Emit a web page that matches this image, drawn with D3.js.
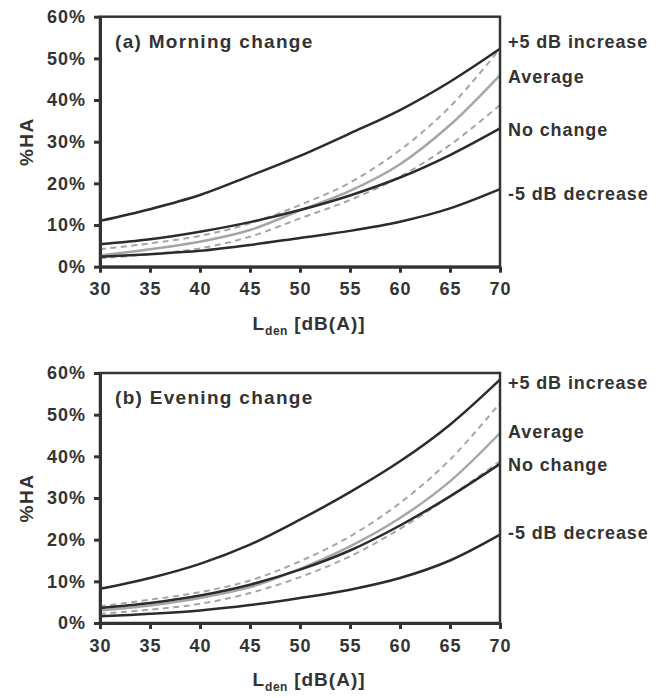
<!DOCTYPE html>
<html>
<head>
    <meta charset="utf-8">
    <title>%HA by Lden</title>
    <script src="https://d3js.org/d3.v7.min.js"></script>
    <style>
        body { margin: 0; background: #fff; }
        text { font-family: "Liberation Sans", Arial, sans-serif; font-weight: bold; fill: #333; }
        .axis path, .axis line { stroke: #333; }
    </style>
</head>
<body>
    <svg id="chart"></svg>
    <script>
        // x values (Lden, dB(A))
        const levels = [30, 35, 40, 45, 50, 55, 60, 65, 70];
        const xTicks = [30, 35, 40, 45, 50, 55, 60, 65, 70];
        const yTicks = [0, 10, 20, 30, 40, 50, 60];

        // (a) morning change, %HA
        const morningIncrease = [11.0, 13.8, 17.2, 21.8, 26.6, 32.0, 37.6, 44.4, 52.3];
        const morningNoChange = [5.4, 6.6, 8.4, 10.7, 13.6, 17.1, 21.4, 26.8, 33.2];
        const morningDecrease = [2.4, 3.0, 3.8, 5.2, 6.9, 8.6, 10.8, 14.0, 18.6];
        const morningAverage = [2.7, 4.2, 6.0, 8.8, 13.5, 18.2, 24.6, 34.0, 46.0];
        const morningUpper = [4.2, 5.6, 7.4, 10.4, 14.8, 20.2, 28.0, 38.4, 52.3];
        const morningLower = [2.0, 3.0, 4.4, 7.2, 11.6, 16.0, 21.6, 29.2, 38.8];

        // (b) evening change, %HA
        const eveningIncrease = [8.2, 10.8, 14.2, 18.8, 24.8, 31.4, 38.8, 47.6, 58.4];
        const eveningNoChange = [3.6, 4.8, 6.6, 9.2, 12.8, 17.4, 23.4, 30.4, 38.2];
        const eveningDecrease = [1.6, 2.2, 3.0, 4.3, 6.0, 8.0, 10.8, 15.0, 21.2];
        const eveningAverage = [3.0, 4.2, 6.0, 8.6, 13.0, 18.4, 25.2, 34.0, 45.6];
        const eveningUpper = [4.0, 5.6, 7.4, 10.2, 14.8, 20.8, 28.8, 39.2, 52.8];
        const eveningLower = [2.2, 3.2, 4.6, 7.2, 11.0, 16.0, 22.6, 30.4, 38.8];

        // right-hand labels and the %HA level they sit at
        const endLabels = ["+5 dB increase", "Average", "No change", "-5 dB decrease"];
        const morningLabelAt = [53.9, 45.5, 33.0, 17.6];
        const eveningLabelAt = [57.7, 45.9, 38.0, 21.6];

        const width = 667;
        const height = 698;

        const svg = d3.select("#chart")
            .attr("width", width)
            .attr("height", height);

        const x = d3.scaleLinear().domain([30, 70]).range([100, 500]);

        const panels = [
            { title: "(a) Morning change", top: 16.7,
              increase: morningIncrease, noChange: morningNoChange, decrease: morningDecrease,
              average: morningAverage, upper: morningUpper, lower: morningLower, labelAt: morningLabelAt },
            { title: "(b) Evening change", top: 373,
              increase: eveningIncrease, noChange: eveningNoChange, decrease: eveningDecrease,
              average: eveningAverage, upper: eveningUpper, lower: eveningLower, labelAt: eveningLabelAt }
        ];

        panels.forEach(p => {
            const y = d3.scaleLinear().domain([0, 60]).range([p.top + 250, p.top]);
            const g = svg.append("g");

            const line = d3.line()
                .x((d, i) => x(levels[i]))
                .y(d => y(d))
                .curve(d3.curveCatmullRom.alpha(0.5));

            // confidence bounds (dashed gray)
            [p.upper, p.lower].forEach(s => {
                g.append("path")
                    .attr("d", line(s))
                    .attr("fill", "none")
                    .attr("stroke", "#a6a6a6")
                    .attr("stroke-width", 2)
                    .attr("stroke-dasharray", "6,4.5");
            });

            // average (solid gray)
            g.append("path")
                .attr("d", line(p.average))
                .attr("fill", "none")
                .attr("stroke", "#a6a6a6")
                .attr("stroke-width", 2.5);

            // scenario curves (black)
            [p.increase, p.noChange, p.decrease].forEach(s => {
                g.append("path")
                    .attr("d", line(s))
                    .attr("fill", "none")
                    .attr("stroke", "#2b2b2b")
                    .attr("stroke-width", 2.5);
            });

            // frame
            g.append("rect")
                .attr("x", x(30))
                .attr("y", y(60))
                .attr("width", x(70) - x(30))
                .attr("height", y(0) - y(60))
                .attr("fill", "none")
                .attr("stroke", "#333")
                .attr("stroke-width", 2.5);

            // y-axis
            g.append("g")
                .attr("class", "axis")
                .attr("transform", `translate(${x(30)}, 0)`)
                .call(d3.axisLeft(y).tickValues(yTicks).tickFormat(d => d + "%").tickSize(6).tickSizeOuter(0).tickPadding(8))
                .call(a => a.select(".domain").attr("stroke-width", 3))
                .call(a => a.selectAll("line").attr("stroke-width", 3))
                .call(a => a.selectAll("text")
                    .attr("fill", "#333")
                    .style("font-size", "18px")
                    .style("letter-spacing", "1px")
                    .style("font-family", "'Liberation Sans', Arial, sans-serif"));

            // x-axis
            g.append("g")
                .attr("class", "axis")
                .attr("transform", `translate(0, ${y(0)})`)
                .call(d3.axisBottom(x).tickValues(xTicks).tickSize(6).tickSizeOuter(0).tickPadding(10))
                .call(a => a.select(".domain").attr("stroke-width", 3))
                .call(a => a.selectAll("line").attr("stroke-width", 3))
                .call(a => a.selectAll("text")
                    .attr("fill", "#333")
                    .style("font-size", "18px")
                    .style("letter-spacing", "1px")
                    .style("font-family", "'Liberation Sans', Arial, sans-serif"));

            // panel title
            g.append("text")
                .attr("x", 115)
                .attr("y", p.top + 31)
                .style("font-size", "19px")
                .style("letter-spacing", "1.3px")
                .text(p.title);

            // right labels
            g.selectAll(".endlabel")
                .data(endLabels)
                .enter()
                .append("text")
                .attr("x", 508)
                .attr("y", (d, i) => y(p.labelAt[i]))
                .attr("dy", "0.35em")
                .style("font-size", "18px")
                .style("letter-spacing", "0.9px")
                .text(d => d);

            // y-axis label
            g.append("text")
                .attr("transform", `translate(33, ${p.top + 125}) rotate(-90)`)
                .attr("text-anchor", "middle")
                .style("font-size", "19px")
                .style("letter-spacing", "1.5px")
                .text("%HA");

            // x-axis label
            const xl = g.append("text")
                .attr("x", 309)
                .attr("y", p.top + 313)
                .attr("text-anchor", "middle")
                .style("font-size", "19px")
                .style("letter-spacing", "1px");
            xl.append("tspan").text("L");
            xl.append("tspan").attr("dy", 5).style("font-size", "12px").style("letter-spacing", "0.5px").text("den");
            xl.append("tspan").attr("dy", -5).text(" [dB(A)]");
        });
    </script>
</body>
</html>
